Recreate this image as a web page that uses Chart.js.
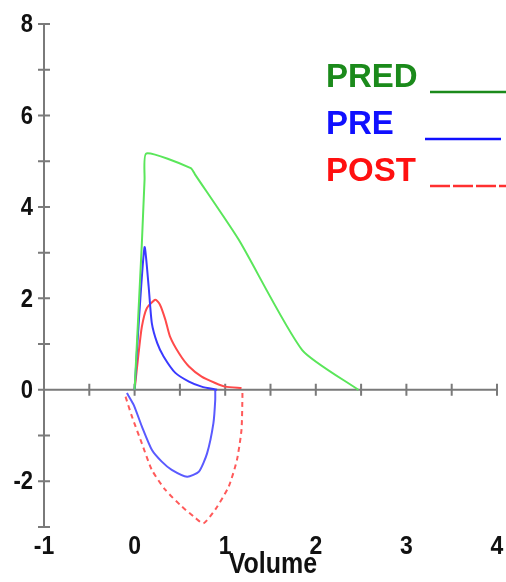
<!DOCTYPE html>
<html lang="en">
<head>
<meta charset="UTF-8">
<title>Flow-Volume Loop</title>
<script src="https://cdn.jsdelivr.net/npm/chart.js"></script>
<style>
  html, body { margin: 0; padding: 0; background: #fff; }
  #wrap { width: 506px; height: 582px; position: relative; }
</style>
</head>
<body>
<div id="wrap"><canvas id="loopChart"></canvas></div>
<script>
// predicted curve
const predVol  = [0, 0.08, 0.11, 0.13, 0.62, 0.67, 1.15, 1.85, 2.47];
const predFlow = [0, 3.2, 4.6, 5.17, 4.85, 4.7, 3.28, 0.87, 0];

// pre-bronchodilator: expiration and inspiration
const preExpVol  = [0, 0.05, 0.11, 0.155, 0.19, 0.25, 0.32, 0.45, 0.6, 0.74, 0.91];
const preExpFlow = [0, 1.6, 3.12, 2.26, 1.46, 1.02, 0.73, 0.37, 0.18, 0.07, 0];
const preInVol   = [-0.085, -0.01, 0.08, 0.19, 0.3, 0.41, 0.58, 0.71, 0.8, 0.87, 0.89, 0.89];
const preInFlow  = [-0.07, -0.33, -0.8, -1.31, -1.57, -1.75, -1.9, -1.79, -1.39, -0.73, -0.22, 0];

// post-bronchodilator: expiration and inspiration
const postExpVol  = [0, 0.044, 0.08, 0.136, 0.23, 0.28, 0.34, 0.39, 0.49, 0.6, 0.74, 0.89, 1.0, 1.18];
const postExpFlow = [0, 0.8, 1.38, 1.79, 1.97, 1.86, 1.53, 1.17, 0.8, 0.51, 0.29, 0.15, 0.07, 0.04];
const postInVol   = [-0.1, -0.03, 0.08, 0.19, 0.34, 0.52, 0.67, 0.76, 0.89, 1.04, 1.13, 1.18, 1.19, 1.19];
const postInFlow  = [-0.15, -0.58, -1.17, -1.75, -2.19, -2.55, -2.8, -2.92, -2.62, -2.11, -1.53, -0.87, -0.15, 0];

const xTicks = [-1, 0, 1, 2, 3, 4];
const yTicks = [8, 6, 4, 2, 0, -2];
const legendItems = [
  { text: 'PRED', textColor: '#1b8a1b', line: '#1b8a1b', dash: [] },
  { text: 'PRE',  textColor: '#1010ff', line: '#1010ff', dash: [] },
  { text: 'POST', textColor: '#ff1010', line: '#ff3030', dash: [20, 3] }
];

function pts(xs, ys) {
  return xs.map((x, i) => ({ x: x, y: ys[i] }));
}

function line(data, color, dash) {
  return {
    data: data,
    showLine: true,
    borderColor: color,
    borderWidth: 2,
    borderDash: dash || [],
    pointRadius: 0,
    tension: 0.2,
    fill: false
  };
}

const AXIS = '#7a7a7a';
const FAMILY = '"Liberation Sans", Arial, sans-serif';

// text slightly stretched vertically, like the old plotter output
function tallText(c, str, x, y, size, sy) {
  c.save();
  c.translate(x, y);
  c.scale(1, sy);
  c.font = 'bold ' + size + 'px ' + FAMILY;
  c.fillText(str, 0, 0);
  c.restore();
}

// axes, ticks, labels and legend drawn with the chart's scales
const axesPlugin = {
  id: 'axesPlugin',
  beforeDatasetsDraw(chart) {
    const c = chart.ctx, xs = chart.scales.x, ys = chart.scales.y;
    const x0 = xs.getPixelForValue(-1), x1 = xs.getPixelForValue(4);
    const yTop = ys.getPixelForValue(8), yBot = ys.getPixelForValue(-3);
    const yZero = ys.getPixelForValue(0);
    c.save();
    c.strokeStyle = AXIS;
    c.lineWidth = 2;
    c.beginPath();
    c.moveTo(x0, yTop); c.lineTo(x0, yBot);
    c.moveTo(x0, yZero); c.lineTo(x1, yZero);
    for (let v = -3; v <= 8; v++) {
      const p = ys.getPixelForValue(v);
      c.moveTo(x0 - 6, p); c.lineTo(x0 + 6, p);
    }
    for (let v = -0.5; v <= 4; v += 0.5) {
      const p = xs.getPixelForValue(v);
      c.moveTo(p, yZero - 6); c.lineTo(p, yZero + 6);
    }
    c.stroke();
    c.restore();
  },
  afterDraw(chart) {
    const c = chart.ctx, xs = chart.scales.x, ys = chart.scales.y;
    const x0 = xs.getPixelForValue(-1);
    c.save();
    c.fillStyle = '#111';
    c.textAlign = 'right';
    c.textBaseline = 'middle';
    yTicks.forEach(v => tallText(c, String(v), x0 - 11, ys.getPixelForValue(v) + 1, 22, 1.18));
    c.textAlign = 'center';
    xTicks.forEach(v => tallText(c, String(v), xs.getPixelForValue(v), 547, 23, 1.1));
    tallText(c, 'Volume', 273, 565, 25, 1.15);

    c.font = 'bold 33px ' + FAMILY;
    c.textAlign = 'left';
    c.textBaseline = 'alphabetic';
    legendItems.forEach((it, i) => {
      const by = 87 + i * 47;
      c.fillStyle = it.textColor;
      c.fillText(it.text, 326, by);
      c.strokeStyle = it.line;
      c.lineWidth = 2.5;
      c.setLineDash(it.dash);
      c.beginPath();
      c.moveTo(i === 1 ? 425 : 430, by + 5);
      c.lineTo(i === 1 ? 501 : 506, by + 5);
      c.stroke();
      c.setLineDash([]);
    });
    c.restore();
  }
};

new Chart(document.getElementById('loopChart'), {
  type: 'scatter',
  data: {
    datasets: [
      line(pts(predVol, predFlow), '#5ae65a'),
      line(pts(preExpVol, preExpFlow), '#3a3aff'),
      line(pts(preInVol, preInFlow), '#5a5aff'),
      line(pts(postExpVol, postExpFlow), '#ff4a4a'),
      line(pts(postInVol, postInFlow), '#ff5a5a', [5, 4])
    ]
  },
  options: {
    responsive: true,
    maintainAspectRatio: false,
    animation: false,
    layout: { padding: { left: 44, right: 9, top: 24, bottom: 55 } },
    scales: {
      x: { type: 'linear', min: -1, max: 4, display: false },
      y: { type: 'linear', min: -3, max: 8, display: false }
    },
    plugins: { legend: { display: false }, tooltip: { enabled: false } }
  },
  plugins: [axesPlugin]
});
</script>
</body>
</html>
